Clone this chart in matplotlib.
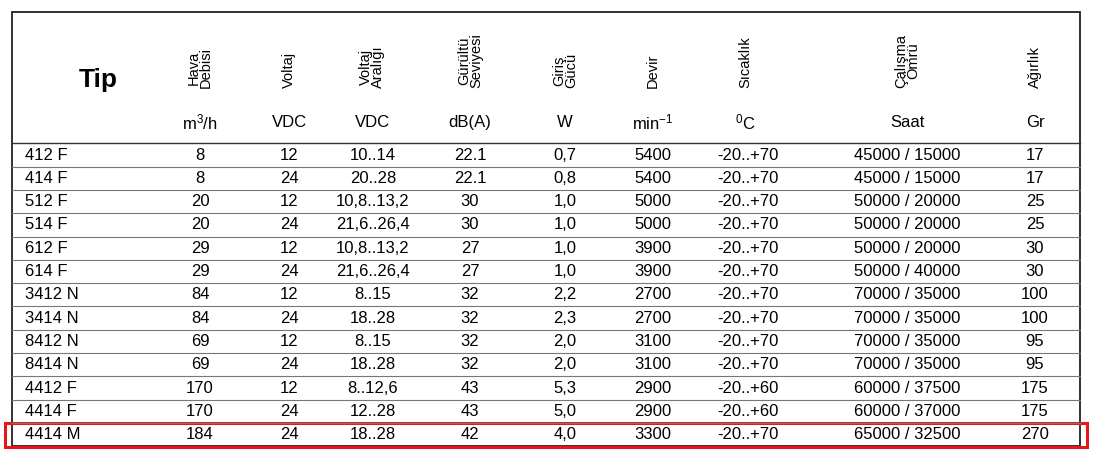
import matplotlib
matplotlib.use("Agg")
import matplotlib.pyplot as plt
from matplotlib.patches import Rectangle

plt.rcParams["font.family"] = ["Liberation Sans", "DejaVu Sans"]
plt.rcParams["mathtext.fontset"] = "custom"
plt.rcParams["mathtext.rm"] = "Liberation Sans"
plt.rcParams["mathtext.it"] = "Liberation Sans"

tipNames = ["412 F", "414 F", "512 F", "514 F", "612 F", "614 F", "3412 N", "3414 N",
            "8412 N", "8414 N", "4412 F", "4414 F", "4414 M"]
airflow = ["8", "8", "20", "20", "29", "29", "84", "84", "69", "69", "170", "170", "184"]
voltage = ["12", "24", "12", "24", "12", "24", "12", "24", "12", "24", "12", "24", "24"]
voltRange = ["10..14", "20..28", "10,8..13,2", "21,6..26,4", "10,8..13,2", "21,6..26,4",
             "8..15", "18..28", "8..15", "18..28", "8..12,6", "12..28", "18..28"]
noise = ["22.1", "22.1", "30", "30", "27", "27", "32", "32", "32", "32", "43", "43", "42"]
power = ["0,7", "0,8", "1,0", "1,0", "1,0", "1,0", "2,2", "2,3", "2,0", "2,0", "5,3", "5,0", "4,0"]
speed = ["5400", "5400", "5000", "5000", "3900", "3900", "2700", "2700", "3100", "3100",
         "2900", "2900", "3300"]
temp = ["-20..+70"] * 10 + ["-20..+60", "-20..+60", "-20..+70"]
life = ["45000 / 15000", "45000 / 15000", "50000 / 20000", "50000 / 20000", "50000 / 20000",
        "50000 / 40000", "70000 / 35000", "70000 / 35000", "70000 / 35000", "70000 / 35000",
        "60000 / 37500", "60000 / 37000", "65000 / 32500"]
weight = ["17", "17", "25", "25", "30", "30", "100", "100", "95", "95", "175", "175", "270"]

headers = ["Hava\nDebisi", "Voltaj", "Voltaj\nAralığı", "Gürültü\nSeviyesi", "Giriş\nGücü",
           "Devir", "Sıcaklık", "Çalışma\nÖmrü", "Ağırlık"]
units = ["m$^3$/h", "VDC", "VDC", "dB(A)", "W", "min$^{-1}$", "$^0$C", "Saat", "Gr"]

columns = [airflow, voltage, voltRange, noise, power, speed, temp, life, weight]
colX = [200, 289, 373, 470, 565, 653, 748, 907, 1035]
headX = [200, 289, 372, 470, 565, 653, 745, 907, 1035]

fig = plt.figure(figsize=(10.95, 4.61), dpi=100)
ax = fig.add_axes([0, 0, 1, 1])
ax.set_xlim(0, 1095)
ax.set_ylim(461, 0)
ax.axis("off")

ax.add_patch(Rectangle((12, 12), 1068, 434, fill=False, lw=1.3, ec="#222222"))
ax.plot([12, 1080], [143, 143], color="#333333", lw=1)

ax.text(98, 80, "Tip", fontsize=19, fontweight="bold", ha="center", va="center")
for h, u, x in zip(headers, units, headX):
    ax.text(x, 88, h, rotation=90, fontsize=10.5, ha="center", va="bottom", linespacing=0.85)
    ax.text(x, 122, u, fontsize=12, ha="center", va="center")

rowH = 23.3
y0 = 155
for i, name in enumerate(tipNames):
    y = y0 + i * rowH
    ax.text(25, y, name, fontsize=12, ha="left", va="center")
    for col, x in zip(columns, colX):
        ax.text(x, y, col[i], fontsize=12, ha="center", va="center")
    if i < len(tipNames) - 1:
        ax.plot([12, 1080], [y + rowH / 2, y + rowH / 2], color="#777777", lw=0.8)

ax.add_patch(Rectangle((5, y0 + 12 * rowH - 12), 1082, 24, fill=False, lw=2.2, ec="#e8161b"))

fig.savefig("out.png", dpi=100)
